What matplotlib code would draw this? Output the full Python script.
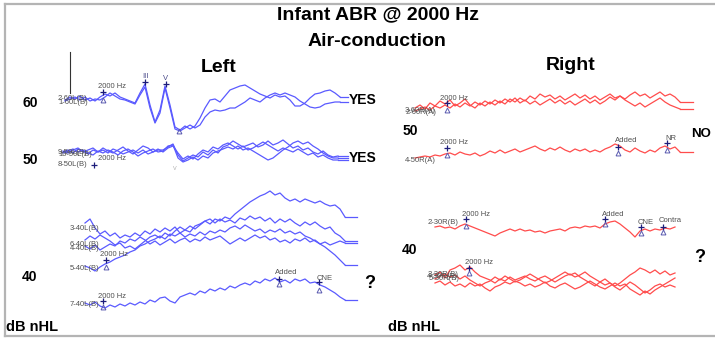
"""Infant ABR at 2000 Hz, air conduction, left vs right ear waveforms"""
import matplotlib.pyplot as plt

plt.rcParams['font.family'] = ['Liberation Sans', 'DejaVu Sans']

# traces are sampled every 5 plot units, amplitudes are relative to each trace baseline
step = 5

# left ear, 60 dB nHL (runs 1 and 2)
left60_a = [0, 3, 1, 4, 0, 2, -1, 3, 6, 4, 7, 3, 1, -1, -3, 7, 16, -5, -22, -10,
            14, -5, -27, -30, -26, -29, -26, -18, -8, 0, 1, -2, 4, 10, 12, 14, 15, 12, 9, 6,
            4, 2, 5, 3, 4, 0, -6, -6, -3, 2, 6, 7, 9, 10, 7, 3]
left60_b = [-1, 1, 3, 0, 3, -1, 1, 0, 3, 7, 4, 1, 0, -2, -4, 5, 13, -8, -23, -13,
            12, -8, -29, -31, -28, -25, -28, -25, -17, -12, -10, -11, -10, -8, -8, -5, -2, 2, 0, -2,
            2, 5, 7, 5, 7, 5, 3, -1, -4, -7, -8, -7, -4, -3, -2, -2]

# left ear, 50 dB nHL (runs 8, 9, 10)
left50_a = [-2, 0, -3, 1, -1, -4, 0, -2, 2, -1, -3, 0, 3, -1, -4, 0, 4, 2, -2, 0,
            0, 3, 6, -5, -11, -8, -5, -7, -2, -5, 0, -3, 3, 5, 9, 6, 3, 5, 7, 3,
            5, 9, 5, 7, 10, 6, 2, 4, 0, 2, -2, -4, -1, -5, -7, -6]
left50_b = [-3, -1, 1, -2, 0, -3, -5, -1, -3, 0, -2, -5, -1, 1, -2, -6, -3, -1, 1, -2,
            -1, 4, 5, -8, -12, -10, -7, -10, -6, -8, -3, -1, 1, 3, 1, 4, 0, 2, -1, -4,
            -7, -10, -8, -4, 0, 3, 7, 9, 6, 8, 4, 1, -3, -6, -8, -8]
left50_c = [-1, -3, 0, 2, -2, 0, 2, -2, 0, -3, 1, -1, -4, -2, 0, -3, 0, -4, -2, 1,
            -2, 2, 4, -3, -9, -6, -9, -4, 0, -2, 3, 1, 5, 7, 4, 1, 4, 0, 2, 5,
            8, 5, 2, -1, 2, 0, -2, 1, -2, -5, -3, -7, -5, -8, -10, -10]

# left ear, 40 dB nHL (runs 3, 4, 5, 6 and 7)
left40_3 = [17, 21, 12, 6, 9, 4, 7, 2, 5, 3, 7, 4, 9, 6, 11, 8, 12, 9, 13, 7,
            10, 8, 14, 16, 19, 16, 21, 19, 23, 21, 26, 30, 34, 38, 41, 44, 46, 49, 45, 47,
            42, 39, 41, 38, 41, 39, 37, 39, 36, 34, 35, 31, 23]
left40_4 = [0, 4, 1, 5, 2, -1, -5, -3, -8, -6, -9, -5, -1, 3, 5, 2, 7, 4, 9, 13,
            10, 14, 11, 15, 19, 21, 17, 21, 18, 20, 17, 22, 20, 24, 21, 23, 19, 22, 17, 21,
            18, 21, 17, 14, 18, 15, 18, 14, 11, 13, 7, 4, -1]
left40_5 = [-26, -28, -31, -27, -24, -22, -19, -17, -15, -12, -10, -6, -4, -1, 1, 4, 1, 6, 4, 7,
            3, 6, 4, 8, 5, 9, 7, 10, 8, 12, 14, 11, 15, 12, 9, 11, 7, 10, 8, 11,
            7, 9, 6, 8, 4, 2, -1, -4, -7, -11, -15, -20, -25]
left40_6 = [-6, -9, -5, -10, -7, -4, -6, -1, -3, 1, -1, 3, 0, -4, -1, -5, -2, 1, -3, 0,
            2, -2, 1, -1, 3, 0, 2, 4, 0, -4, -1, 2, -1, 2, 5, 2, 4, 0, 2, -2,
            0, -3, 1, -1, 2, -2, 0, -4, -2, -5, -3, -1, -3]
left40_7 = [-3, -5, -2, -6, -8, -5, -7, -4, -6, -3, -5, -2, -4, 0, -2, 2, 3, -1, -3, 3,
            5, 7, 5, 9, 7, 11, 9, 12, 10, 14, 12, 15, 17, 15, 19, 17, 21, 19, 22, 18,
            20, 17, 21, 19, 21, 17, 18, 15, 13, 10, 7, 3, 0]

# right ear, 60 dB nHL (runs 2 and 3)
right60_a = [-3, 0, -4, 2, -1, 4, 1, 5, -1, 2, 6, 0, -3, 2, -1, 3, 0, 4, 1, 6,
             3, 7, 4, 9, 6, 11, 8, 10, 6, 9, 5, 8, 11, 7, 10, 6, 9, 5, 8, 11,
             7, 9, 6, 10, 13, 9, 11, 7, 10, 13, 9, 11, 8, 3]
right60_b = [-6, -4, -2, -5, -1, -3, 0, -3, 1, -2, 2, -1, 3, 0, 4, 1, 5, 2, 6, 3,
             7, 2, 5, 1, 4, 0, 3, 6, 2, 5, 1, 4, 0, 3, 6, 2, 5, 1, 4, 8,
             5, 9, 5, 2, -1, 2, -2, 1, 4, 7, 3, 0, -2, -4]

# right ear, 50 dB nHL (run 4)
right50 = [-8, -7, -6, -7, -5, -6, -4, -3, -5, -2, -4, -5, -3, -6, -4, -1, -3, 0, -3, -1,
           1, -2, 0, 2, 4, 1, -1, 2, 0, 3, 0, -2, 1, -1, 1, -2, 0, -2, 1, 3,
           6, 4, 0, -2, 2, -1, -3, 0, -2, 2, 4, 1, 3, -2]

# right ear, 40 dB level (runs 2-5)
right40_2 = [3, 4, 2, 3, 1, 4, 6, 4, 2, 0, -2, -4, -6, -3, -1, 1, -1, 1, -1, 0,
             -2, -1, -3, -1, 0, 1, -1, 2, 3, 2, 4, 3, 4, 2, 6, 8, 9, 6, 2, -2,
             -7, -1, 1, -1, 1, 0, 2, 1, 3]
right40_3 = [5, 8, 2, 10, 12, 15, 10, 13, 8, 4, 2, 0, -3, 1, -1, 3, 0, 2, 4, 1,
             -1, 2, 4, 1, -2, 1, 4, 6, 3, 5, 8, 4, 1, -2, -5, -3, -6, -3, 1, 5,
             8, 12, 10, 7, 10, 6, 9, 5, 7]
right40_4 = [-3, -1, -5, -2, -6, -4, -7, -3, -6, -4, -8, -11, -7, -5, -2, -4, -1, -3, -6, -4,
             -7, -5, -2, -6, -8, -5, -3, -6, -9, -7, -4, -1, -4, -7, -9, -6, -3, -6, -4, -9,
             -12, -15, -11, -14, -10, -7, -4, -1, 2]
right40_5 = [1, 4, 6, 3, 5, 1, 4, 0, -3, -6, -3, -1, 3, 0, 4, 1, -2, 0, 3, 6,
             3, 0, -3, -1, 2, 5, 8, 5, 7, 3, 0, -3, -6, -2, 1, -3, -7, -10, -6, -2,
             -5, -9, -13, -10, -6, -4, -7, -5, -7]

blue = '#5a5aff'
red = '#ff4c4c'
mark_col = '#1c1c7a'
lab_col = '#505050'

# (samples, start, baseline, end of flat tail, colour)
traces = [
    (left60_a, 65, 100, 348, blue), (left60_b, 65, 100, 348, blue),
    (left50_a, 63, 150, 348, blue), (left50_b, 63, 150, 348, blue), (left50_c, 63, 150, 348, blue),
    (left40_3, 85, 240, 357, blue), (left40_4, 85, 240, 357, blue), (left40_5, 85, 240, 357, blue),
    (left40_6, 85, 240, 357, blue), (left40_7, 85, 300, 357, blue),
    (right60_a, 415, 105, 693, red), (right60_b, 415, 105, 693, red),
    (right50, 415, 150, 693, red),
    (right40_2, 435, 230, None, red),
    (right40_3, 435, 280, None, red), (right40_4, 435, 280, None, red), (right40_5, 435, 280, None, red),
]

fig = plt.figure(figsize=(7.15, 3.38), dpi=100)
ax = fig.add_axes([0, 0, 1, 1])
ax.set_xlim(0, 715)
ax.set_ylim(338, 0)
ax.axis('off')

# grey frame on left, top and bottom
frame = '#b4b4b4'
ax.plot([5, 715], [4, 4], color=frame, lw=1.6)
ax.plot([5, 715], [336, 336], color=frame, lw=1.6)
ax.plot([5, 5], [4, 336], color=frame, lw=1.6)
ax.plot([70, 70], [52, 93], color='#333333', lw=0.8)

for amps, x0, base, tail, col in traces:
    xs = [x0 + step * i for i in range(len(amps))]
    ys = [base - a for a in amps]
    ax.plot(xs, ys, color=col, lw=0.9)
    if tail is not None:
        ax.plot([xs[-1], tail], [ys[-1], ys[-1]], color=col, lw=0.9)

# titles
bold = dict(fontweight='bold', color='black', ha='center', va='center')
ax.text(378, 15, 'Infant ABR @ 2000 Hz', fontsize=14, **bold)
ax.text(377, 42, 'Air-conduction', fontsize=14, **bold)
ax.text(219, 68, 'Left', fontsize=14, **bold)
ax.text(571, 66, 'Right', fontsize=14, **bold)

# level labels and responses
for x, y, s in [(30, 103, '60'), (30, 160, '50'), (30, 277, '40'),
                (410, 131, '50'), (410, 250, '40')]:
    ax.text(x, y, s, fontsize=10, **bold)
ax.text(6, 327, 'dB nHL', fontsize=10.5, fontweight='bold', va='center')
ax.text(388, 327, 'dB nHL', fontsize=10.5, fontweight='bold', va='center')
ax.text(349, 100, 'YES', fontsize=10, fontweight='bold', va='center')
ax.text(349, 158, 'YES', fontsize=10, fontweight='bold', va='center')
ax.text(691, 134, 'NO', fontsize=9.5, fontweight='bold', va='center')
ax.text(370, 283, '?', fontsize=13, **bold)
ax.text(700, 258, '?', fontsize=13, **bold)

# run labels
run_labels = [(58, 98, '2-60L(B)'), (58, 103, '1-60L(B)'),
              (58, 152, '9-50L(B)'), (58, 154, '10-50L(B)'), (58, 164, '8-50L(B)'),
              (70, 228, '3-40L(B)'), (70, 244, '6-40L(B)'), (70, 248, '4-40L(B)'),
              (70, 268, '5-40L(B)'), (70, 305, '7-40L(B)'),
              (405, 111, '3-60R(A)'), (406, 113, '2-60R(A)'), (405, 160, '4-50R(A)'),
              (428, 223, '2-30R(B)'), (428, 274, '3-30R(B)'), (427, 277, '4-30R(B)'),
              (429, 279, '5-30R(B)')]
for x, y, s in run_labels:
    ax.text(x, y, s, fontsize=5.5, color=lab_col, va='center')

# cursor marks: (x, cross y, triangle y, label, label x, label y)
marks = [(103, 92, 100, '2000 Hz', 98, 87), (94, 165, None, '2000 Hz', 98, 159),
         (106, 260, 267, '2000 Hz', 100, 255), (103, 301, 307, '2000 Hz', 98, 297),
         (279, 279, 284, 'Added', 275, 273), (319, 282, 290, 'CNE', 317, 278),
         (447, 103, 110, '2000 Hz', 440, 98), (447, 148, 155, '2000 Hz', 440, 143),
         (618, 147, 153, 'Added', 615, 140), (667, 143, 150, 'NR', 665, 138),
         (466, 219, 226, '2000 Hz', 462, 214), (605, 219, 224, 'Added', 602, 214),
         (641, 227, 233, 'CNE', 638, 222), (663, 227, 232, 'Contra', 659, 221),
         (469, 268, 273, '2000 Hz', 465, 263)]
for x, yc, yt, s, lx, ly in marks:
    ax.plot(x, yc, marker='+', ms=5, mew=0.9, color=mark_col)
    if yt is not None:
        ax.plot(x, yt, marker='^', ms=3.5, mfc='none', mec='#5a5ab0', mew=0.7)
    ax.text(lx, ly, s, fontsize=5.5, color=lab_col, va='center')

# wave III / V peaks of the 60 dB run
for x, yc, s in [(145, 82, 'III'), (166, 84, 'V')]:
    ax.plot(x, yc, marker='+', ms=5, mew=0.9, color=mark_col)
    ax.text(x, yc - 6, s, fontsize=5.5, color='#4a4a8a', ha='center', va='center')
ax.plot(179, 131, marker='^', ms=3.5, mfc='none', mec='#5a5ab0', mew=0.7)
ax.text(175, 169, 'V', fontsize=4, color='#aaaaaa', ha='center', va='center')

fig.savefig('out.png', dpi=100)
